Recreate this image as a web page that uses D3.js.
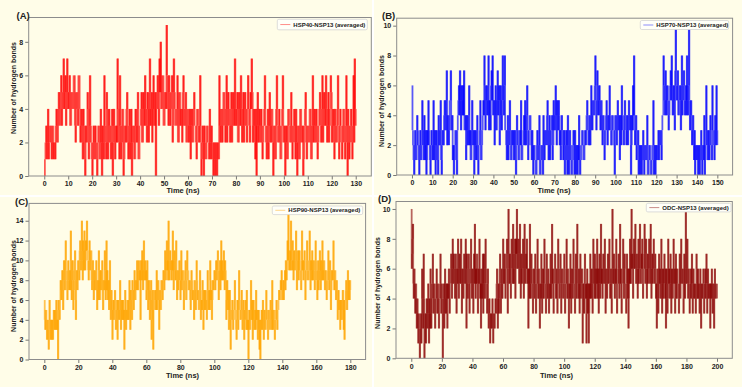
<!DOCTYPE html>
<html>
<head>
<meta charset="utf-8">
<script src="https://cdn.jsdelivr.net/npm/d3@7"></script>
<style>
  body { margin: 0; background: #ffffff; }
  text { font-family: "Liberation Sans", Arial, sans-serif; font-weight: bold; }
</style>
</head>
<body>
<div id="chart"></div>
<script>

const SVG_W = 742;
const SVG_H = 387;

const TIME_STEP = 0.5;   // ns between two samples of the main arrays, the *_mid arrays sit half way

const COLOR_BG = "#fffde8";
const COLOR_FRAME = "#8c8c8c";
const COLOR_TEXT = "#222222";

const STROKE_SERIES = 1.8;

// ------------------------------------------------- data (hydrogen bonds)

// t = 0, 0.5, 1.0 ... 130 ns
const hsp40Bonds = [
    0,2,1,4,2,3,1,3,2,1, 4,2,5,3,6,4,7,5,3,7, 4,6,3,5,4,6,2,5,3,6, 2,4,1,3,0,2,5,1,6,2,
    0,3,1,2,0,3,1,4,0,2, 6,2,5,1,4,2,3,0,4,1, 3,7,2,6,1,4,0,3,2,5, 1,4,2,0,3,1,4,2,5,1,
    3,5,2,4,6,3,5,2,7,4, 2,6,3,0,5,4,7,8,4,6, 3,5,9,4,6,3,5,2,7,4, 3,6,2,5,4,2,6,3,5,2,
    4,3,1,4,2,5,3,1,4,2, 6,0,3,0,2,1,3,2,4,1, 2,0,1,2,0,1,6,2,4,3, 5,2,6,3,4,2,5,3,4,7,
    3,5,2,4,6,2,5,3,4,2, 6,3,5,7,2,4,1,0,5,3, 2,4,1,3,6,2,3,1,5,2, 4,0,3,1,6,2,4,1,3,6,
    2,0,3,1,4,2,5,1,3,2, 4,0,3,1,4,2,0,3,5,1, 3,2,4,1,6,3,2,4,1,3, 5,2,6,3,4,6,2,5,3,6,
    2,4,1,3,2,6,1,4,3,2, 4,1,6,0,3,2,4,1,6,7, 3
];
// t = 0.25, 0.75 ... 129.75 ns
const hsp40Bonds_mid = [
    1,3,2,1,3,2,3,1,2,3, 2,4,3,5,3,5,4,6,4,5, 5,3,5,4,6,3,5,4,6,4, 3,2,4,1,3,2,4,2,3,1,
    2,1,3,1,2,3,1,2,3,1, 3,1,4,2,3,1,4,2,3,2, 2,4,1,3,2,4,1,3,4,2, 3,1,4,2,3,1,3,4,1,3,
    4,2,5,3,4,2,4,5,3,5, 4,3,5,4,6,3,5,4,6,3, 5,4,6,3,5,4,6,3,5,3, 4,2,5,3,4,5,3,4,2,4,
    2,4,3,2,4,3,2,4,3,3, 2,1,2,3,1,3,2,1,2,3, 1,2,0,1,2,1,3,4,2,5, 3,4,2,5,3,4,2,5,3,4,
    4,2,5,3,4,3,2,5,3,4, 4,2,4,5,3,2,4,3,2,4, 2,3,2,4,3,1,4,2,3,4, 2,3,1,4,3,2,3,1,4,2,
    3,2,1,4,3,2,3,2,4,1, 2,3,1,4,2,3,1,4,2,3, 2,4,1,3,2,4,2,3,2,4, 3,4,2,5,3,4,3,2,4,5,
    3,2,4,2,4,3,2,3,1,4, 2,3,2,4,1,3,2,3,2,4
];

// t = 0, 0.5 ... 150 ns
const hsp70Bonds = [
    6,2,0,3,1,4,2,0,3,1, 5,2,4,1,0,3,5,2,0,3, 1,5,2,0,3,1,4,2,5,0, 3,2,5,3,7,4,2,5,7,3,
    1,0,2,3,0,4,6,7,3,5, 6,7,3,1,4,2,6,3,1,5, 2,0,3,1,4,0,2,5,1,3, 5,8,3,6,4,8,5,3,7,8,
    4,2,6,3,7,5,2,6,3,8, 4,8,3,1,4,2,5,1,3,2, 1,3,0,4,2,1,3,5,1,2, 4,5,2,6,1,3,4,2,3,0,
    2,1,0,3,1,4,0,2,1,4, 1,3,2,5,1,4,2,3,1,5, 3,6,2,4,5,2,1,4,3,2, 0,2,1,4,0,3,1,0,2,1,
    3,0,1,2,4,0,1,3,2,1, 3,2,5,3,4,2,6,3,5,4, 8,3,7,4,6,3,5,2,4,1, 3,5,2,4,6,3,2,4,3,0,
    4,2,5,3,1,4,6,3,2,5, 3,4,2,5,3,0,4,6,8,2, 4,2,3,1,0,2,1,3,0,2, 1,4,0,2,1,0,2,5,1,0,
    2,1,3,2,3,1,4,8,5,7, 4,6,3,5,7,8,4,6,3,10, 5,7,4,6,3,8,5,7,4,6, 8,4,10,3,5,2,4,1,0,2,
    1,0,2,1,3,0,2,4,1,6, 2,3,1,4,2,6,3,1,4,6, 2
];
const hsp70Bonds_mid = [
    3,1,2,1,2,3,1,2,1,2, 3,1,2,3,1,2,3,1,2,2, 2,1,3,1,2,0,2,3,1,2, 2,4,3,5,2,4,3,5,3,4,
    2,1,3,1,3,5,4,5,6,4, 4,3,4,2,3,4,2,1,3,2, 3,1,2,3,1,2,3,1,2,4, 4,6,4,5,6,3,4,6,5,4,
    5,4,3,5,4,6,3,4,5,5, 6,3,2,3,1,3,2,1,2,3, 2,1,2,3,1,3,2,1,2,3, 2,3,4,3,2,4,3,1,2,2,
    1,0,2,1,2,0,1,2,0,2, 3,2,4,2,3,1,3,4,2,3, 4,3,5,3,4,3,2,3,1,3, 1,3,0,2,1,2,0,2,3,0,
    1,2,0,1,2,1,2,3,1,2, 2,4,3,2,4,3,4,5,4,6, 5,4,6,5,4,5,3,4,3,2, 4,3,4,3,4,2,4,3,2,4,
    3,4,3,4,3,2,4,3,4,3, 2,3,4,3,4,2,3,4,3,3, 1,2,0,2,1,0,2,1,2,1, 2,0,1,2,0,1,2,0,2,1,
    1,2,1,3,2,3,4,6,4,6, 6,5,4,6,5,6,5,4,7,6, 6,4,5,5,6,4,6,5,5,4, 5,6,5,4,3,3,2,3,1,1,
    2,1,0,2,1,2,1,0,2,3, 1,2,3,2,1,3,2,4,2,3
];

// t = 0, 0.5 ... 180 ns
const hsp90Bonds = [
    6,3,5,2,4,1,6,2,4,3, 2,5,3,4,6,3,0,5,4,8, 6,9,5,10,7,12,8,6,10,7, 9,13,6,10,5,8,11,4,9,7,
    10,8,12,9,14,8,11,13,9,12, 14,10,8,12,9,11,7,10,6,9, 7,10,5,8,11,6,9,7,10,5, 8,11,6,12,9,7,5,10,4,7,
    2,6,4,7,3,5,2,6,4,8, 3,6,5,4,1,7,3,5,6,4, 8,3,6,4,7,5,9,6,8,10, 7,10,8,4,9,11,7,12,9,8,
    6,10,5,8,4,7,2,6,1,5, 7,5,9,6,8,3,7,5,8,6, 9,7,11,8,12,10,14,8,11,9, 10,13,7,11,8,12,6,9,8,10,
    6,11,7,9,5,8,10,6,11,9, 7,8,5,9,6,7,4,8,5,10, 6,7,5,9,4,6,8,3,7,5, 6,4,9,5,7,10,6,4,8,7,
    9,7,10,8,11,6,9,7,12,10, 8,11,7,9,4,8,5,3,7,1, 4,6,3,5,8,4,2,6,3,9, 5,4,7,3,6,2,5,4,7,3,
    0,5,3,8,4,2,6,3,5,7, 4,2,5,1,0,4,3,6,2,5, 3,7,4,2,5,3,6,4,8,3, 5,2,4,6,3,5,7,6,8,9,
    6,8,7,9,10,8,12,15,9,11, 14,10,12,8,11,9,13,7,10,8, 11,9,7,13,10,8,11,6,9,12, 8,10,13,7,9,11,8,10,7,12,
    9,6,10,8,11,7,9,12,8,10, 7,9,6,8,11,7,10,5,9,8, 12,7,9,6,8,4,7,5,3,6, 4,7,3,2,6,8,5,9,7,6,
    8
];
const hsp90Bonds_mid = [
    4,5,3,4,2,3,4,3,2,4, 3,4,5,3,5,4,6,4,6,7, 8,7,9,8,10,9,7,9,8,9, 7,10,8,9,7,10,6,8,7,10,
    9,11,10,11,10,12,9,12,10,11, 11,9,10,9,11,8,9,8,9,7, 9,7,8,6,9,8,7,9,6,8, 7,9,8,7,6,8,7,6,7,5,
    5,4,6,5,4,6,4,5,5,6, 5,4,6,5,4,6,5,4,5,6, 5,7,5,8,6,7,6,8,7,8, 9,8,9,10,8,9,10,8,10,9,
    7,8,6,7,5,8,4,7,5,6, 6,7,5,8,6,7,5,8,7,8, 8,9,8,10,9,8,10,9,10,8, 9,8,10,9,10,8,9,7,10,8,
    8,7,9,8,7,9,6,8,9,7, 8,6,7,8,7,6,8,6,7,8, 7,5,6,7,6,5,7,5,6,7, 5,6,7,6,5,8,7,6,7,8,
    8,9,8,10,9,8,10,9,8,9, 9,8,10,8,6,5,7,4,5,4, 5,4,5,6,4,3,5,4,6,5, 4,6,5,4,5,4,6,3,5,4,
    4,3,5,4,6,5,4,5,3,4, 5,4,3,4,3,5,4,3,4,3, 4,5,3,5,4,3,5,3,4,5, 4,3,5,4,5,6,6,7,7,6,
    7,6,8,7,8,9,10,10,11,9, 10,9,11,10,9,10,11,9,11,10, 9,8,10,9,8,10,9,8,10,9, 9,10,8,10,8,9,10,9,8,10,
    8,9,7,9,8,10,8,9,10,8, 9,8,7,9,8,9,8,7,8,9, 8,9,7,8,7,6,5,6,5,4, 6,5,6,5,7,6,7,6,8,7
];

// t = 0, 0.5 ... 200 ns
const odcBonds = [
    10,7,9,4,6,3,5,2,4,1, 3,0,2,1,6,3,7,0,2,1, 4,2,5,1,3,6,2,4,7,3, 5,2,4,6,3,5,2,4,7,3,
    5,0,4,2,6,3,5,2,4,6, 3,5,7,4,8,5,6,4,7,3, 6,8,4,7,5,8,3,6,4,7, 5,8,2,6,4,7,3,5,8,4,
    6,3,7,9,4,5,7,3,6,8, 4,2,6,5,3,7,4,8,5,3, 6,2,4,1,3,2,4,1,3,2, 4,3,6,2,5,4,7,3,6,4,
    8,5,7,4,6,8,3,10,5,7, 4,8,6,9,5,7,4,8,10,6, 8,5,9,4,7,6,8,4,9,5, 7,8,5,2,6,9,4,7,5,3,
    6,4,7,3,5,8,4,6,2,5, 7,3,6,4,8,5,3,7,4,6, 3,5,7,4,9,6,3,5,7,4, 6,3,8,5,4,7,3,6,5,4,
    7,3,5,8,4,6,2,5,7,3, 6,4,8,5,3,7,4,9,5,6, 3,7,4,6,1,5,3,7,4,1, 6,3,1,5,7,4,6,3,8,5,
    7,4,6,8,5,3,7,4,9,6, 4,7,5,8,3,6,4,7,5,8, 4,6,3,10,5,7,4,6,8,3, 5,7,4,9,6,3,5,8,4,7,
    5,3,7,4,2,6,8,5,10,7, 4,8,6,9,5,7,4,8,6,9, 5,7,8,4,6,9,5,8,4,7, 6,8,5,9,4,7,6,8,5,7,
    4,2,6,3,7,5,4,8,3,6, 5,7,4,2,6,3,8,5,4,7, 3,6,4,8,5,3,7,4,6,5, 3,7,4,8,5,6,3,7,4,10,
    5,8,4,6,3,5,4,7,3,6, 4,5,3,7,4,6,5,3,6,2, 5,4,6,3,5,4,7,3,6,4, 5,2,4,6,3,5,2,6,4,5,
    4
];
const odcBonds_mid = [
    6,8,5,6,4,5,3,4,2,3, 2,1,3,2,4,2,4,1,3,3, 3,4,3,4,2,5,3,5,4,5, 4,3,5,4,5,3,4,5,4,5,
    4,3,5,3,5,4,3,5,5,4, 5,6,5,6,5,7,5,6,5,6, 5,6,5,6,7,5,6,5,6,5, 6,5,7,4,5,6,5,6,5,6,
    5,6,5,6,6,7,5,6,5,6, 5,6,4,7,5,6,5,6,4,5, 4,3,3,2,2,3,2,3,2,3, 3,5,4,4,3,6,5,4,5,5,
    6,6,5,6,7,5,6,7,6,5, 6,7,5,7,6,8,6,7,6,7, 6,7,6,7,5,7,6,7,6,7, 6,5,6,5,4,6,5,6,4,5,
    5,6,5,4,6,5,6,4,5,4, 5,4,5,6,5,4,6,5,5,4, 5,4,5,6,5,4,5,6,5,5, 4,5,6,4,6,5,4,5,4,6,
    5,4,6,5,6,4,5,4,5,6, 5,6,5,4,6,5,6,5,4,5, 5,4,5,5,3,4,6,5,5,3, 4,5,3,4,6,5,4,5,6,4,
    5,6,5,4,6,5,5,6,5,5, 6,5,6,5,6,5,6,5,6,5, 5,4,5,6,6,5,6,5,4,5, 6,5,6,5,4,5,6,5,6,5,
    4,5,5,6,4,5,6,7,6,6, 6,6,7,6,7,6,6,5,7,6, 6,6,5,6,7,6,7,6,6,5, 7,6,7,6,6,5,7,6,6,6,
    5,4,5,4,5,6,5,6,5,4, 6,5,6,4,5,4,6,6,5,6, 5,4,6,5,6,4,5,6,5,4, 5,4,6,5,6,5,4,5,6,5,
    6,5,6,5,4,6,5,5,4,5, 5,4,5,6,5,4,5,4,5,4, 4,5,5,4,6,5,5,4,5,5, 4,5,5,4,5,4,5,4,5,5
];

const hsp40Ticks_x = d3.range(0, 131, 10);
const hsp70Ticks_x = d3.range(0, 151, 10);
const hsp90Ticks_x = d3.range(0, 181, 20);
const odcTicks_x = d3.range(0, 201, 20);

const ticks_y_9 = [0, 2, 4, 6, 8];
const ticks_y_10 = [0, 2, 4, 6, 8, 10];
const ticks_y_14 = [0, 2, 4, 6, 8, 10, 12, 14];

// ------------------------------------------------- panel layout (pixels)

const PANEL_A = { tag: "(A)", legend: "HSP40-NSP13 (averaged)", color: "#ff0000", opacity: 0.65,
                  data: hsp40Bonds, dataMid: hsp40Bonds_mid, xTicks: hsp40Ticks_x, yTicks: ticks_y_9,
                  xDomain: [-6.5, 136.5], yDomain: [0, 9.45],
                  left: 28.7, right: 371.3, top: 17.5, bottom: 176,
                  bg: [0, 0, 372, 195],
                  tagX: 16.5, tagY: 18.5, yLabelX: 14, yLabelY: 88, xLabelX: 183, xLabelY: 193,
                  legX: 277.3, legY: 19.3, legW: 90, legH: 10.5 };

const PANEL_B = { tag: "(B)", legend: "HSP70-NSP13 (averaged)", color: "#0000ff", opacity: 0.65,
                  data: hsp70Bonds, dataMid: hsp70Bonds_mid, xTicks: hsp70Ticks_x, yTicks: ticks_y_10,
                  xDomain: [-7.5, 157.5], yDomain: [0, 10.5],
                  left: 396.7, right: 732.6, top: 18.2, bottom: 175,
                  bg: [374, 0, 368, 195],
                  tagX: 382, tagY: 18.5, yLabelX: 381.5, yLabelY: 101, xLabelX: 554, xLabelY: 193,
                  legX: 640.3, legY: 20.5, legW: 88.4, legH: 9 };

const PANEL_C = { tag: "(C)", legend: "HSP90-NSP13 (averaged)", color: "#ffa500", opacity: 0.65,
                  data: hsp90Bonds, dataMid: hsp90Bonds_mid, xTicks: hsp90Ticks_x, yTicks: ticks_y_14,
                  xDomain: [-9, 189], yDomain: [0, 15.75],
                  left: 29, right: 365.6, top: 203.4, bottom: 359.5,
                  bg: [0, 197, 372, 190],
                  tagX: 15, tagY: 205, yLabelX: 13.5, yLabelY: 286, xLabelX: 182.5, xLabelY: 378,
                  legX: 272.3, legY: 206, legW: 90.4, legH: 8.6 };

const PANEL_D = { tag: "(D)", legend: "ODC-NSP13 (averaged)", color: "#880000", opacity: 0.6,
                  data: odcBonds, dataMid: odcBonds_mid, xTicks: odcTicks_x, yTicks: ticks_y_10,
                  xDomain: [-10, 210], yDomain: [0, 10.5],
                  left: 396, right: 732.3, top: 201.5, bottom: 358.3,
                  bg: [374, 197, 368, 190],
                  tagX: 378, tagY: 202, yLabelX: 378, yLabelY: 283, xLabelX: 556.5, xLabelY: 378,
                  legX: 646.3, legY: 203.3, legW: 84.7, legH: 8.6 };

// -------------------------------------------------

function draw_panel(svg, p) {

    svg.append("rect")
            .attr("x", p.bg[0])
            .attr("y", p.bg[1])
            .attr("width", p.bg[2])
            .attr("height", p.bg[3])
            .attr("fill", COLOR_BG)

    let scaleX = d3.scaleLinear()
                    .domain(p.xDomain)
                    .range([p.left, p.right])

    let scaleY = d3.scaleLinear()
                    .domain(p.yDomain)
                    .range([p.bottom, p.top])

    // --------------------------------------------------------------------------------- series

    // merge the main samples and the half-way samples in time order
    let points = [];
    p.data.forEach(function (v, i) {
        points.push([i * TIME_STEP, v]);
        if (i < p.dataMid.length) points.push([i * TIME_STEP + TIME_STEP / 2, p.dataMid[i]]);
    });

    // each change between two samples is a vertical stroke; neighbouring strokes overlap,
    // so the busy band builds up colour while lone spikes stay light
    let steps = d3.pairs(points);

    svg.append("g")
        .selectAll("line")
        .data(steps)
        .join("line")
            .attr("x1", function (d) { return scaleX(d[1][0]); })
            .attr("x2", function (d) { return scaleX(d[1][0]); })
            .attr("y1", function (d) { return scaleY(d[0][1]); })
            .attr("y2", function (d) { return scaleY(d[1][1]); })
            .attr("stroke", p.color)
            .attr("stroke-opacity", p.opacity)
            .attr("stroke-width", STROKE_SERIES)

    // --------------------------------------------------------------------------------- axes

    let axisX = d3.axisBottom(scaleX)
                    .tickValues(p.xTicks)
                    .tickSize(3.5)
                    .tickPadding(2)

    let axisY = d3.axisLeft(scaleY)
                    .tickValues(p.yTicks)
                    .tickSize(3.5)
                    .tickPadding(2)

    let gx = svg.append("g")
            .attr("transform", "translate(0," + p.bottom + ")")
            .call(axisX)

    let gy = svg.append("g")
            .attr("transform", "translate(" + p.left + ",0)")
            .call(axisY)

    for (let g of [gx, gy]) {
        g.select(".domain").remove();
        g.selectAll(".tick line").attr("stroke", "#555555").attr("stroke-width", 0.8);
        g.selectAll(".tick text")
            .attr("fill", COLOR_TEXT)
            .style("font-size", "7px")
            .style("font-family", "'Liberation Sans', Arial, sans-serif")
            .style("font-weight", "bold");
    }

    svg.append("rect")
            .attr("x", p.left)
            .attr("y", p.top)
            .attr("width", p.right - p.left)
            .attr("height", p.bottom - p.top)
            .attr("fill", "none")
            .attr("stroke", COLOR_FRAME)
            .attr("stroke-width", 1)

    // --------------------------------------------------------------------------------- labels

    svg.append("text")
            .attr("x", p.tagX)
            .attr("y", p.tagY)
            .attr("fill", COLOR_TEXT)
            .style("font-size", "9.5px")
            .text(p.tag)

    svg.append("text")
            .attr("transform", "translate(" + p.yLabelX + "," + p.yLabelY + ") rotate(-90)")
            .attr("text-anchor", "middle")
            .attr("dy", "0.35em")
            .attr("fill", COLOR_TEXT)
            .style("font-size", "7px")
            .text("Number of hydrogen bonds")

    svg.append("text")
            .attr("x", p.xLabelX)
            .attr("y", p.xLabelY)
            .attr("text-anchor", "middle")
            .attr("fill", COLOR_TEXT)
            .style("font-size", "7.5px")
            .text("Time (ns)")

    // --------------------------------------------------------------------------------- legend

    svg.append("rect")
            .attr("x", p.legX)
            .attr("y", p.legY)
            .attr("width", p.legW)
            .attr("height", p.legH)
            .attr("rx", 1.5)
            .attr("fill", "#fffff8")
            .attr("stroke", "#d4d4d4")
            .attr("stroke-width", 0.8)

    svg.append("line")
            .attr("x1", p.legX + 3)
            .attr("x2", p.legX + 13)
            .attr("y1", p.legY + p.legH / 2)
            .attr("y2", p.legY + p.legH / 2)
            .attr("stroke", p.color)
            .attr("stroke-opacity", 0.45)
            .attr("stroke-width", 1)

    svg.append("text")
            .attr("x", p.legX + 16)
            .attr("y", p.legY + p.legH / 2)
            .attr("dy", "0.35em")
            .attr("fill", COLOR_TEXT)
            .style("font-size", "6px")
            .text(p.legend)
}

let svg = d3.select("#chart")
            .append("svg")
                .attr("width", SVG_W)
                .attr("height", SVG_H);

draw_panel(svg, PANEL_A);
draw_panel(svg, PANEL_B);
draw_panel(svg, PANEL_C);
draw_panel(svg, PANEL_D);

</script>
</body>
</html>
